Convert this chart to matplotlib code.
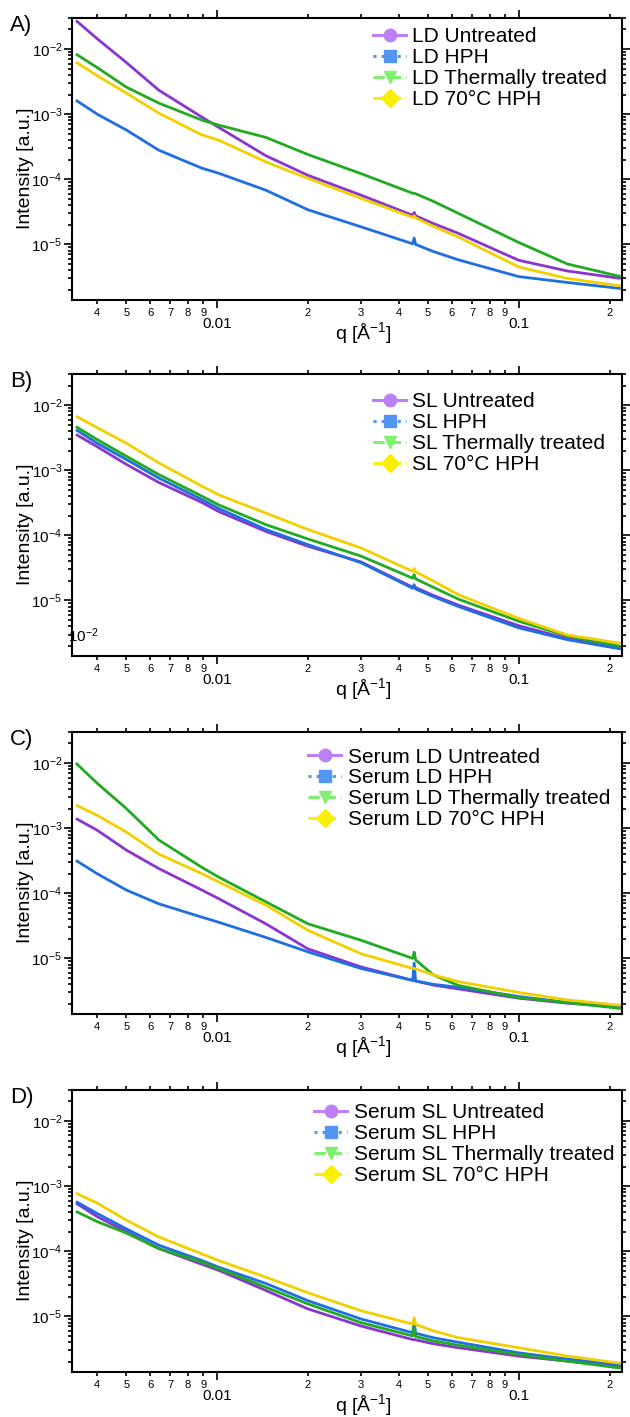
import numpy as np
import matplotlib
matplotlib.use("Agg")
import matplotlib.pyplot as plt
from matplotlib.lines import Line2D
from matplotlib.ticker import FixedLocator, FixedFormatter, LogLocator, FuncFormatter, NullFormatter

plt.rcParams['font.family'] = ['Liberation Sans', 'DejaVu Sans']
plt.rcParams['mathtext.fontset'] = 'custom'
plt.rcParams['mathtext.rm'] = 'Liberation Sans'
plt.rcParams['mathtext.it'] = 'Liberation Sans:italic'

# shared q grid (1/A)
q = [0.0034, 0.004, 0.005, 0.0064, 0.0089, 0.0101, 0.0145, 0.02, 0.03,
     0.0445, 0.045, 0.0455, 0.052, 0.063, 0.1, 0.145, 0.218]

treatments = ["Untreated", "HPH", "Thermally treated", "70°C HPH"]
prefixes = ["LD", "SL", "Serum LD", "Serum SL"]
panel_tags = ["A)", "B)", "C)", "D)"]

# panel A - LD
A_untreated = [2.75e-2, 1.44e-2, 6.2e-3, 2.34e-3, 9.0e-4, 6.3e-4, 2.3e-4, 1.15e-4, 5.7e-5,
               2.8e-5, 3.1e-5, 2.75e-5, 2.1e-5, 1.48e-5, 5.7e-6, 3.9e-6, 3.0e-6]
A_hph = [1.64e-3, 1.0e-3, 5.7e-4, 2.8e-4, 1.48e-4, 1.24e-4, 6.8e-5, 3.4e-5, 1.86e-5,
         1.02e-5, 1.25e-5, 1.0e-5, 7.8e-6, 5.8e-6, 3.2e-6, 2.6e-6, 2.1e-6]
A_thermal = [8.4e-3, 5.2e-3, 2.6e-3, 1.48e-3, 8.1e-4, 6.8e-4, 4.4e-4, 2.4e-4, 1.22e-4,
             6.1e-5, 6.1e-5, 6.0e-5, 4.6e-5, 3.0e-5, 1.07e-5, 5.0e-6, 3.2e-6]
A_70hph = [6.3e-3, 3.9e-3, 2.1e-3, 1.04e-3, 4.8e-4, 4.0e-4, 1.85e-4, 1.03e-4, 5.1e-5,
           2.6e-5, 2.75e-5, 2.55e-5, 1.9e-5, 1.3e-5, 4.5e-6, 3.0e-6, 2.3e-6]

# panel B - SL
B_untreated = [3.55e-3, 2.3e-3, 1.23e-3, 6.5e-4, 3.2e-4, 2.33e-4, 1.15e-4, 6.8e-5, 3.9e-5,
               1.6e-5, 1.6e-5, 1.58e-5, 1.2e-5, 8.5e-6, 4.1e-6, 2.6e-6, 1.85e-6]
B_hph = [4.2e-3, 2.6e-3, 1.46e-3, 7.6e-4, 3.55e-4, 2.6e-4, 1.23e-4, 7.2e-5, 3.8e-5,
         1.54e-5, 1.75e-5, 1.5e-5, 1.15e-5, 8.1e-6, 3.8e-6, 2.5e-6, 1.8e-6]
B_thermal = [4.7e-3, 2.96e-3, 1.64e-3, 8.6e-4, 4.0e-4, 2.95e-4, 1.46e-4, 8.8e-5, 4.8e-5,
             2.2e-5, 2.5e-5, 2.15e-5, 1.6e-5, 1.05e-5, 4.8e-6, 2.85e-6, 1.97e-6]
B_70hph = [6.8e-3, 4.5e-3, 2.6e-3, 1.3e-3, 5.7e-4, 4.2e-4, 2.2e-4, 1.23e-4, 6.4e-5,
           2.8e-5, 3.1e-5, 2.75e-5, 2.0e-5, 1.23e-5, 5.3e-6, 2.95e-6, 2.2e-6]

# panel C - Serum LD
C_untreated = [1.41e-3, 9.3e-4, 4.6e-4, 2.4e-4, 1.12e-4, 8.3e-5, 3.4e-5, 1.4e-5, 7.4e-6,
               4.6e-6, 4.6e-6, 4.5e-6, 3.9e-6, 3.4e-6, 2.45e-6, 2.05e-6, 1.8e-6]
C_hph = [3.2e-4, 2.0e-4, 1.12e-4, 6.9e-5, 4.3e-5, 3.6e-5, 2.1e-5, 1.26e-5, 7.0e-6,
         4.6e-6, 8.5e-6, 4.5e-6, 4.0e-6, 3.6e-6, 2.6e-6, 2.1e-6, 1.85e-6]
C_thermal = [1.0e-2, 4.9e-3, 2.0e-3, 6.6e-4, 2.5e-4, 1.78e-4, 7.4e-5, 3.4e-5, 1.9e-5,
             1.0e-5, 1.25e-5, 9.5e-6, 5.6e-6, 3.85e-6, 2.5e-6, 2.1e-6, 1.7e-6]
C_70hph = [2.26e-3, 1.58e-3, 8.7e-4, 4.0e-4, 2.0e-4, 1.5e-4, 6.6e-5, 2.7e-5, 1.18e-5,
           7.0e-6, 7.0e-6, 6.9e-6, 5.6e-6, 4.4e-6, 3.0e-6, 2.3e-6, 1.9e-6]

# panel D - Serum SL
D_untreated = [5.5e-4, 3.4e-4, 2.0e-4, 1.1e-4, 6.3e-5, 5.1e-5, 2.5e-5, 1.3e-5, 7.1e-6,
               4.4e-6, 4.4e-6, 4.35e-6, 3.8e-6, 3.3e-6, 2.45e-6, 2.05e-6, 1.7e-6]
D_hph = [5.8e-4, 3.8e-4, 2.2e-4, 1.24e-4, 7.2e-5, 5.7e-5, 3.2e-5, 1.74e-5, 9.1e-6,
         5.6e-6, 8.5e-6, 5.5e-6, 4.7e-6, 4.0e-6, 2.75e-6, 2.2e-6, 1.82e-6]
D_thermal = [4.1e-4, 2.85e-4, 1.9e-4, 1.1e-4, 6.8e-5, 5.4e-5, 2.8e-5, 1.55e-5, 8.0e-6,
             5.0e-6, 7.0e-6, 4.9e-6, 4.2e-6, 3.6e-6, 2.6e-6, 2.05e-6, 1.6e-6]
D_70hph = [7.8e-4, 5.5e-4, 3.0e-4, 1.66e-4, 9.1e-5, 7.2e-5, 4.0e-5, 2.3e-5, 1.22e-5,
           7.6e-6, 9.5e-6, 7.5e-6, 6.0e-6, 4.7e-6, 3.3e-6, 2.45e-6, 1.9e-6]

panels = [
    [A_untreated, A_hph, A_thermal, A_70hph],
    [B_untreated, B_hph, B_thermal, B_70hph],
    [C_untreated, C_hph, C_thermal, C_70hph],
    [D_untreated, D_hph, D_thermal, D_70hph],
]

line_colors = ['#8a35d0', '#1f6fe0', '#22aa22', '#f2d000']
leg_colors = ['#bb80f5', '#5096f2', '#80f070', '#f8f000']
leg_styles = ['-', ':', '--', '-.']
leg_markers = ['o', 's', 'v', 'D']

# axes placement (figure fractions)
bottoms = [0.7883, 0.537, 0.2844, 0.0318]
leg_anchor = [(0.547, 0.967), (0.547, 0.935), (0.429, 0.945), (0.44, 0.953)]


def minor_digit(v, pos):
    d = int(round(v / 10 ** np.floor(np.log10(v) + 1e-9)))
    return str(d)


fig = plt.figure(figsize=(6.3, 14.17), dpi=100)

for i in range(4):
    ax = fig.add_axes([0.1143, bottoms[i], 0.873, 0.199])
    for k in range(4):
        ax.plot(q, panels[i][k], color=line_colors[k], lw=2.0, solid_capstyle='butt')

    ax.set_xscale('log')
    ax.set_yscale('log')
    ax.set_xlim(0.0033, 0.22)
    ax.set_ylim(1.4e-6, 3.0e-2)

    ax.xaxis.set_major_locator(FixedLocator([0.01, 0.1]))
    ax.xaxis.set_major_formatter(FixedFormatter(['0.01', '0.1']))
    ax.xaxis.set_minor_locator(LogLocator(base=10, subs=np.arange(2, 10), numticks=30))
    ax.xaxis.set_minor_formatter(FuncFormatter(minor_digit))

    ax.yaxis.set_major_locator(FixedLocator([1e-5, 1e-4, 1e-3, 1e-2]))
    ax.yaxis.set_major_formatter(FuncFormatter(lambda v, p: r'$\mathregular{10^{%d}}$' % round(np.log10(v))))
    ax.yaxis.set_minor_locator(LogLocator(base=10, subs=np.arange(2, 10), numticks=30))
    ax.yaxis.set_minor_formatter(NullFormatter())

    for s in ax.spines.values():
        s.set_linewidth(1.5)
    ax.tick_params(which='both', direction='out', top=True, right=True, width=1.2)
    ax.tick_params(which='major', length=5.5)
    ax.tick_params(which='minor', length=3)
    ax.tick_params(axis='x', which='major', labelsize=11, pad=7)
    ax.tick_params(axis='x', which='minor', labelsize=8, pad=2.5)
    ax.tick_params(axis='y', which='major', labelsize=11, pad=1.5)

    ax.set_ylabel('Intensity [a.u.]', fontsize=14)
    ax.yaxis.set_label_coords(-0.07, 0.468)
    ax.set_xlabel(r'q [Å$^{\mathregular{-1}}$]', fontsize=14)
    ax.xaxis.set_label_coords(0.53, -0.072)

    ax.text(-0.113, 0.975, panel_tags[i], transform=ax.transAxes, fontsize=16,
            ha='left', va='center')

    handles = [Line2D([], [], color=leg_colors[k], ls=leg_styles[k], lw=2.2,
                      marker=leg_markers[k], markersize=9, markerfacecolor=leg_colors[k],
                      markeredgecolor=leg_colors[k])
               for k in range(4)]
    labels = [prefixes[i] + ' ' + t for t in treatments]
    ax.legend(handles, labels, loc='upper left', bbox_to_anchor=leg_anchor[i],
              frameon=False, borderpad=0, borderaxespad=0, handlelength=1.6,
              handletextpad=0.3, labelspacing=0.09, fontsize=15)

    if i == 1:
        # stray label left over in the original figure
        ax.text(-0.007, 0.071, r'$\mathregular{10^{-2}}$', transform=ax.transAxes,
                fontsize=11, ha='left', va='center')

fig.savefig('out.png', dpi=100)
